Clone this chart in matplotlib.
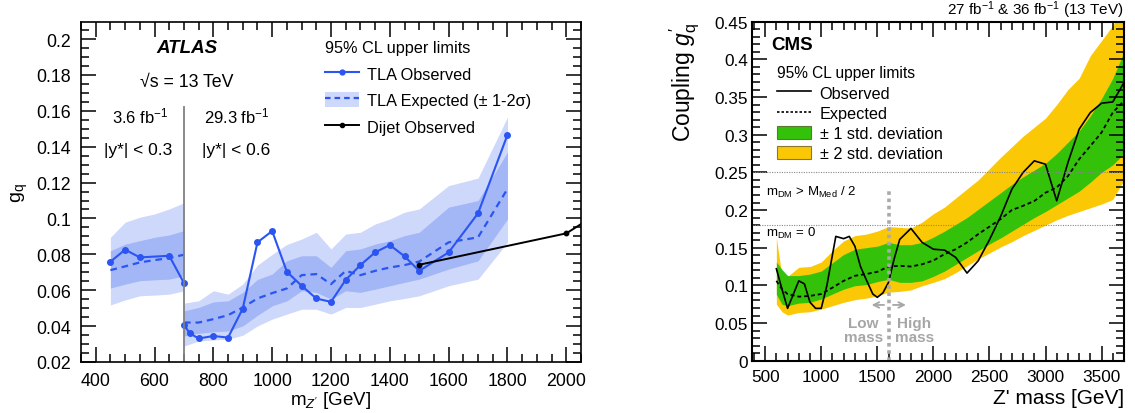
import numpy as np
import matplotlib
matplotlib.use("Agg")
import matplotlib.pyplot as plt
from matplotlib.lines import Line2D
from matplotlib.patches import Patch
from matplotlib.ticker import MultipleLocator, FormatStrFormatter

# ATLAS TLA, low |y*| region (3.6 fb-1)
atlas_x1 = [450, 500, 550, 600, 650, 700]
atlas_exp1 = [0.0712, 0.0733, 0.0755, 0.0768, 0.0779, 0.0798]
atlas_2hi1 = [0.0895, 0.0979, 0.1007, 0.1025, 0.1053, 0.1087]
atlas_2lo1 = [0.0518, 0.0546, 0.0569, 0.0573, 0.0578, 0.0597]
atlas_1hi1 = [0.0820, 0.0857, 0.0876, 0.0895, 0.0908, 0.0932]
atlas_1lo1 = [0.0612, 0.0634, 0.0653, 0.0658, 0.0662, 0.0680]
atlas_obs_x1 = [450, 500, 550, 650, 700]
atlas_obs1 = [0.0759, 0.0826, 0.0783, 0.0792, 0.0640]

# ATLAS TLA, |y*| < 0.6 region (29.3 fb-1)
atlas_x2 = [700, 750, 800, 850, 900, 950, 1000, 1050, 1100, 1150, 1200, 1250,
            1300, 1350, 1400, 1450, 1500, 1600, 1700, 1800]
atlas_exp2 = [0.0420, 0.0420, 0.0439, 0.0461, 0.0504, 0.0554, 0.0584, 0.0610, 0.0684, 0.0690,
              0.0634, 0.0708, 0.0684, 0.0708, 0.0727, 0.0740, 0.0760, 0.0867, 0.0895, 0.1165]
atlas_2hi2 = [0.0528, 0.0541, 0.0597, 0.0578, 0.0634, 0.0740, 0.0800, 0.0855, 0.0885, 0.0923,
              0.0830, 0.0913, 0.0923, 0.0969, 0.0997, 0.1035, 0.1053, 0.1183, 0.1225, 0.1565]
atlas_1hi2 = [0.0485, 0.0504, 0.0535, 0.0541, 0.0588, 0.0660, 0.0690, 0.0764, 0.0792, 0.0792,
              0.0727, 0.0820, 0.0830, 0.0857, 0.0876, 0.0904, 0.0923, 0.1063, 0.1100, 0.1370]
atlas_1lo2 = [0.0345, 0.0360, 0.0368, 0.0373, 0.0401, 0.0460, 0.0513, 0.0541, 0.0597, 0.0588,
              0.0550, 0.0597, 0.0588, 0.0606, 0.0625, 0.0644, 0.0662, 0.0718, 0.0764, 0.0997]
atlas_2lo2 = [0.0289, 0.0317, 0.0323, 0.0327, 0.0349, 0.0401, 0.0439, 0.0467, 0.0494, 0.0494,
              0.0467, 0.0504, 0.0504, 0.0522, 0.0541, 0.0554, 0.0569, 0.0625, 0.0662, 0.0867]
atlas_obs_x2 = [700, 720, 750, 800, 850, 900, 950, 1000, 1050, 1100, 1150, 1200, 1250,
                1300, 1350, 1400, 1450, 1500, 1600, 1700, 1800]
atlas_obs2 = [0.0407, 0.0360, 0.0331, 0.0345, 0.0336, 0.0498, 0.0867, 0.0930, 0.0703, 0.0625,
              0.0554, 0.0535, 0.0658, 0.0740, 0.0811, 0.0852, 0.0789, 0.0708, 0.0811, 0.1029, 0.1466]

# ATLAS dijet observed
dijet_x = [1500, 2000, 2100]
dijet_obs = [0.0742, 0.0917, 0.1020]

# CMS bands and limits
cms_x = [600, 650, 700, 800, 900, 1000, 1100, 1200, 1300, 1400, 1500, 1600, 1700, 1800,
         1900, 2000, 2100, 2200, 2300, 2400, 2500, 2600, 2700, 2800, 2900, 3000, 3100,
         3200, 3300, 3400, 3500, 3600, 3700]
cms_2hi = [0.163, 0.112, 0.112, 0.124, 0.125, 0.131, 0.146, 0.159, 0.166, 0.168, 0.172, 0.178,
           0.177, 0.176, 0.184, 0.195, 0.204, 0.216, 0.228, 0.240, 0.255, 0.270, 0.284, 0.298,
           0.310, 0.322, 0.340, 0.360, 0.375, 0.405, 0.425, 0.445, 0.470]
cms_1hi = [0.131, 0.121, 0.113, 0.113, 0.115, 0.119, 0.130, 0.141, 0.148, 0.150, 0.152, 0.157,
           0.154, 0.154, 0.157, 0.164, 0.172, 0.181, 0.190, 0.201, 0.212, 0.223, 0.234, 0.244,
           0.253, 0.262, 0.275, 0.290, 0.305, 0.325, 0.348, 0.375, 0.410]
cms_1lo = [0.088, 0.075, 0.073, 0.0765, 0.0775, 0.082, 0.0885, 0.095, 0.0995, 0.101, 0.105,
           0.108, 0.104, 0.104, 0.106, 0.112, 0.119, 0.128, 0.137, 0.146, 0.155, 0.163, 0.172,
           0.181, 0.190, 0.198, 0.207, 0.216, 0.225, 0.237, 0.250, 0.260, 0.275]
cms_2lo = [0.075, 0.065, 0.0606, 0.064, 0.065, 0.0685, 0.073, 0.0775, 0.081, 0.083, 0.086,
           0.091, 0.092, 0.094, 0.0995, 0.104, 0.109, 0.117, 0.126, 0.135, 0.143, 0.151, 0.158,
           0.166, 0.173, 0.180, 0.187, 0.193, 0.198, 0.203, 0.208, 0.214, 0.240]
cms_exp = [0.106, 0.095, 0.0885, 0.085, 0.086, 0.0885, 0.097, 0.106, 0.1127, 0.115, 0.118,
           0.125, 0.126, 0.125, 0.128, 0.133, 0.1415, 0.148, 0.157, 0.168, 0.178, 0.188, 0.200,
           0.2056, 0.212, 0.223, 0.230, 0.245, 0.2675, 0.285, 0.303, 0.3295, 0.345]
cms_obs_x = [600, 650, 700, 800, 850, 900, 950, 1000, 1050, 1130, 1200, 1250, 1300, 1350,
             1400, 1460, 1500, 1550, 1600, 1650, 1700, 1800, 1900, 2000, 2100, 2200, 2300,
             2400, 2500, 2600, 2700, 2800, 2900, 3000, 3100, 3200, 3300, 3400, 3500, 3600, 3700]
cms_obs = [0.122, 0.095, 0.0695, 0.106, 0.102, 0.0775, 0.0695, 0.0695, 0.0995, 0.165, 0.162,
           0.165, 0.152, 0.125, 0.108, 0.0885, 0.0841, 0.090, 0.104, 0.135, 0.161, 0.1756,
           0.157, 0.148, 0.1468, 0.137, 0.1163, 0.1326, 0.1605, 0.1915, 0.2277, 0.2499, 0.2653,
           0.2608, 0.2122, 0.263, 0.3073, 0.3295, 0.3418, 0.3435, 0.3692]

plt.rcParams['font.family'] = ['Liberation Sans', 'DejaVu Sans']
plt.rcParams['mathtext.fontset'] = 'custom'
plt.rcParams['mathtext.rm'] = 'Liberation Sans'
plt.rcParams['mathtext.it'] = 'Liberation Sans:italic'
plt.rcParams['mathtext.bf'] = 'Liberation Sans:bold'

blue = '#2b55f2'
light = '#cdd8fb'
dark = '#a3b6f6'
green = '#33c10a'
yellow = '#fbc806'

fig = plt.figure(figsize=(11.35, 4.14), dpi=100)

# ---------------- ATLAS panel ----------------
ax = fig.add_axes([81 / 1135, 1 - 363 / 414, 500 / 1135, 340 / 414])
ax.fill_between(atlas_x1, atlas_2lo1, atlas_2hi1, color=light, lw=0)
ax.fill_between(atlas_x1, atlas_1lo1, atlas_1hi1, color=dark, lw=0)
ax.fill_between(atlas_x2, atlas_2lo2, atlas_2hi2, color=light, lw=0)
ax.fill_between(atlas_x2, atlas_1lo2, atlas_1hi2, color=dark, lw=0)
ax.plot(atlas_x1, atlas_exp1, color=blue, ls=(0, (3, 2.2)), lw=1.6)
ax.plot(atlas_x2, atlas_exp2, color=blue, ls=(0, (3, 2.2)), lw=1.6)
ax.plot(atlas_obs_x1, atlas_obs1, color=blue, lw=1.5, marker='o', ms=4)
ax.plot(atlas_obs_x2, atlas_obs2, color=blue, lw=1.5, marker='o', ms=4)
ax.plot(dijet_x, dijet_obs, color='black', lw=1.4, marker='o', ms=3.2)
ax.plot([700, 700], [0.02, 0.162], color='#808080', lw=1.3)

ax.set_xlim(350, 2050)
ax.set_ylim(0.02, 0.2095)
ax.xaxis.set_major_locator(MultipleLocator(200))
ax.xaxis.set_minor_locator(MultipleLocator(50))
ax.yaxis.set_major_locator(MultipleLocator(0.02))
ax.yaxis.set_minor_locator(MultipleLocator(0.005))
ax.yaxis.set_major_formatter(FormatStrFormatter('%g'))
ax.tick_params(which='both', direction='in', top=True, right=True, labelsize=12.8, width=1.1)
ax.tick_params(which='major', length=11, pad=7)
ax.tick_params(which='minor', length=6)
for s in ax.spines.values():
    s.set_linewidth(1.2)
ax.set_xlabel("m$_{Z'}$ [GeV]", fontsize=13.5, labelpad=0)
ax.set_ylabel("g$_\\mathregular{q}$", fontsize=14, labelpad=5)

ax.text(0.212, 0.926, 'ATLAS', transform=ax.transAxes, ha='center', va='center',
        fontsize=13.5, fontweight='bold', fontstyle='italic')
ax.text(0.212, 0.826, '√s = 13 TeV', transform=ax.transAxes, ha='center', va='center', fontsize=12.8)
ax.text(0.118, 0.724, '3.6 fb$^{-1}$', transform=ax.transAxes, ha='center', va='center', fontsize=12)
ax.text(0.312, 0.724, '29.3 fb$^{-1}$', transform=ax.transAxes, ha='center', va='center', fontsize=12)
ax.text(0.114, 0.626, '|y*| < 0.3', transform=ax.transAxes, ha='center', va='center', fontsize=12.5)
ax.text(0.310, 0.626, '|y*| < 0.6', transform=ax.transAxes, ha='center', va='center', fontsize=12.5)

h_obs = Line2D([], [], color=blue, lw=1.5, marker='o', ms=3.5)
h_exp = (Patch(facecolor=light, edgecolor='none'), Line2D([], [], color=blue, ls=(0, (2.5, 1.8)), lw=1.6))
h_dij = Line2D([], [], color='black', lw=1.4, marker='o', ms=3)
leg = ax.legend([h_obs, h_exp, h_dij], ['TLA Observed', 'TLA Expected (± 1-2σ)', 'Dijet Observed'],
                title='95% CL upper limits', loc='upper left', bbox_to_anchor=(0.472, 0.97),
                frameon=False, fontsize=11.7, title_fontsize=11.7, alignment='left',
                borderpad=0, handlelength=2.1, handleheight=1.1, handletextpad=0.5,
                labelspacing=0.62)

# ---------------- CMS panel ----------------
bx = fig.add_axes([751.7 / 1135, 1 - 361.7 / 414, 372.3 / 1135, 339 / 414])
bx.fill_between(cms_x, cms_2lo, cms_2hi, color=yellow, lw=0)
bx.fill_between(cms_x, cms_1lo, cms_1hi, color=green, lw=0)
bx.plot(cms_x, cms_exp, color='black', ls=(0, (2.2, 1.6)), lw=1.3)
bx.plot(cms_obs_x, cms_obs, color='black', lw=1.2)
bx.axhline(0.25, color='#888888', ls=(0, (1, 1.2)), lw=0.8)
bx.axhline(0.18, color='#888888', ls=(0, (1, 1.2)), lw=0.8)
bx.plot([1600, 1600], [0, 0.228], color='#aaaaaa', ls=(0, (1, 1)), lw=2.6)
bx.annotate('', xy=(1425, 0.074), xytext=(1585, 0.074),
            arrowprops=dict(arrowstyle='->', color='#a6a6a6', lw=1.3))
bx.annotate('', xy=(1780, 0.074), xytext=(1615, 0.074),
            arrowprops=dict(arrowstyle='->', color='#a6a6a6', lw=1.3))
bx.text(1378, 0.041, 'Low\nmass', ha='center', va='center', color='#a6a6a6', fontsize=11,
        fontweight='bold', linespacing=0.95)
bx.text(1828, 0.041, 'High\nmass', ha='center', va='center', color='#a6a6a6', fontsize=11,
        fontweight='bold', linespacing=0.95)
bx.text(0.038, 0.225, 'm$_\\mathregular{DM}$ > M$_\\mathregular{Med}$ / 2', transform=bx.get_yaxis_transform(),
        ha='left', va='center', fontsize=9.5)
bx.text(0.038, 0.170, 'm$_\\mathregular{DM}$ = 0', transform=bx.get_yaxis_transform(),
        ha='left', va='center', fontsize=9.5)

bx.set_xlim(380, 3700)
bx.set_ylim(0, 0.45)
bx.xaxis.set_major_locator(MultipleLocator(500))
bx.xaxis.set_minor_locator(MultipleLocator(100))
bx.yaxis.set_major_locator(MultipleLocator(0.05))
bx.yaxis.set_minor_locator(MultipleLocator(0.01))
bx.yaxis.set_major_formatter(FormatStrFormatter('%g'))
bx.tick_params(which='both', direction='in', top=True, right=True, labelsize=12.4, width=1.1)
bx.tick_params(axis='y', which='major', length=11, pad=2.5)
bx.tick_params(axis='x', which='major', length=11, pad=6)
bx.tick_params(which='minor', length=5.5)
for s in bx.spines.values():
    s.set_linewidth(1.5)
bx.set_xlabel("Z' mass [GeV]", fontsize=15, loc='right', labelpad=3)
bx.set_ylabel("Coupling $g_\\mathregular{q}'$", fontsize=16.5, loc='top', labelpad=9)

bx.text(0.052, 0.934, 'CMS', transform=bx.transAxes, ha='left', va='center',
        fontsize=13.5, fontweight='bold')
bx.text(1.0, 1.004, '27 fb$^{-1}$ & 36 fb$^{-1}$ (13 TeV)', transform=bx.transAxes,
        ha='right', va='bottom', fontsize=11)

c_hand = [Line2D([], [], color='black', lw=1.2),
          Line2D([], [], color='black', ls=(0, (1.5, 1.2)), lw=1.2),
          Patch(facecolor=green, edgecolor='#5a7a30', lw=0.8),
          Patch(facecolor=yellow, edgecolor='#8a7a30', lw=0.8)]
bx.legend(c_hand, ['Observed', 'Expected', '± 1 std. deviation', '± 2 std. deviation'],
          title='95% CL upper limits', loc='upper left', bbox_to_anchor=(0.045, 0.895),
          frameon=False, fontsize=11.7, title_fontsize=11.2, alignment='left',
          borderpad=0, handlelength=2.1, handleheight=0.9, handletextpad=0.55,
          labelspacing=0.3)

fig.savefig('out.png', dpi=100)
